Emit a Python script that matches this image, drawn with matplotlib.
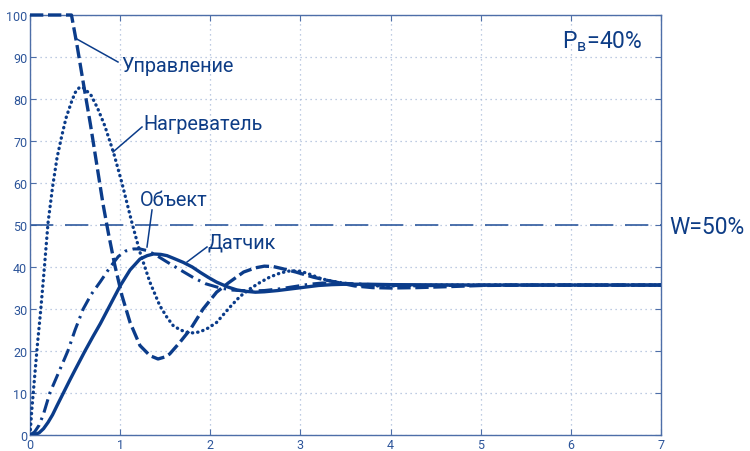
import matplotlib
matplotlib.use("Agg")
import matplotlib.pyplot as plt

# ---- data ----
upr_x = [0, 0.46, 0.52, 0.59, 0.67, 0.74, 0.81, 0.87, 0.94, 1.02, 1.11, 1.22, 1.33, 1.42, 1.50, 1.55, 1.66, 1.78, 1.92, 2.07, 2.20, 2.37, 2.50, 2.60, 2.70, 2.80, 2.95, 3.14, 3.30, 3.44, 3.60, 3.80, 4.00, 4.30, 4.60, 5.00, 5.50, 7.00]
upr_y = [100, 100, 93, 84, 74, 64.5, 55, 48, 40.5, 33.2, 26.8, 21.3, 18.9, 18.1, 18.6, 19.3, 22, 25.2, 30, 34, 36.2, 38.8, 39.8, 40.2, 40.1, 39.6, 38.8, 37.6, 36.8, 36.2, 35.5, 35.1, 35.0, 35.1, 35.3, 35.6, 35.7, 35.7]

nag_x = [0, 0.01, 0.02, 0.04, 0.08, 0.12, 0.16, 0.20, 0.25, 0.30, 0.35, 0.40, 0.46, 0.50, 0.55, 0.60, 0.68, 0.75, 0.83, 0.93, 1.02, 1.13, 1.22, 1.33, 1.44, 1.52, 1.59, 1.67, 1.75, 1.82, 1.89, 1.98, 2.07, 2.22, 2.33, 2.44, 2.55, 2.66, 2.78, 2.89, 3.00, 3.10, 3.22, 3.33, 3.44, 3.60, 3.80, 4.00, 4.50, 7.00]
nag_y = [0, 3, 6, 11, 21, 30, 40, 50.5, 59, 66, 71, 75.5, 79.3, 81.5, 82.8, 82.6, 80.8, 77.8, 73.6, 67, 60, 50.6, 43.5, 36.4, 30.8, 28, 26, 25, 24.4, 24.3, 24.6, 25.5, 26.8, 30.5, 33, 34.8, 36.3, 37.6, 38.6, 39.1, 39.0, 38.3, 37.3, 36.7, 36.3, 35.8, 35.5, 35.5, 35.7, 35.7]

obj_x = [0, 0.05, 0.10, 0.15, 0.22, 0.32, 0.42, 0.50, 0.59, 0.68, 0.78, 0.89, 0.98, 1.06, 1.15, 1.22, 1.30, 1.40, 1.52, 1.66, 1.81, 1.95, 2.11, 2.25, 2.44, 2.60, 2.77, 2.95, 3.10, 3.25, 3.40, 3.60, 3.80, 4.20, 5.00, 7.00]
obj_y = [0, 0.7, 2.3, 5, 10, 15, 20, 25, 30, 33.5, 36.5, 40, 42.5, 43.8, 44.3, 44.3, 43.9, 42.8, 41.2, 39.4, 37.5, 36.0, 35.0, 34.5, 34.3, 34.4, 34.8, 35.4, 35.9, 36.2, 36.2, 36.0, 35.8, 35.5, 35.7, 35.7]

dat_x = [0, 0.05, 0.10, 0.15, 0.20, 0.25, 0.30, 0.37, 0.44, 0.50, 0.61, 0.70, 0.78, 0.89, 1.00, 1.11, 1.22, 1.30, 1.37, 1.45, 1.52, 1.60, 1.70, 1.80, 1.89, 1.98, 2.07, 2.20, 2.30, 2.40, 2.50, 2.60, 2.75, 2.90, 3.05, 3.20, 3.35, 3.50, 3.75, 4.00, 5.00, 7.00]
dat_y = [0, 0.1, 0.5, 1.5, 3, 4.8, 7, 10, 13, 15.5, 20, 23.5, 26.5, 31, 35.5, 39.3, 41.9, 42.7, 43.1, 43.0, 42.7, 42.0, 41.1, 40.0, 38.7, 37.5, 36.4, 35.2, 34.5, 34.2, 34.0, 34.1, 34.4, 34.8, 35.2, 35.6, 35.8, 35.9, 35.9, 35.8, 35.7, 35.7]

w_level = 50
x_ticks = [0, 1, 2, 3, 4, 5, 6, 7]
y_ticks = [0, 10, 20, 30, 40, 50, 60, 70, 80, 90, 100]

plt.rcParams['font.family'] = ['Roboto', 'DejaVu Sans']
plt.rcParams['mathtext.fontset'] = 'custom'
plt.rcParams['mathtext.rm'] = 'Roboto'

LINE = '#0b3c8a'
TEXT = '#0e3d86'
AX = '#4d6ea8'
GRID = '#a9bbd9'

fig = plt.figure(figsize=(7.5, 4.52), dpi=100)
ax = fig.add_axes([30/750, 16/452, 631/750, 420/452])

ax.set_xlim(0, 7)
ax.set_ylim(0, 100)
ax.set_xticks(x_ticks)
ax.set_yticks(y_ticks)
ax.grid(True, linestyle=(0, (1, 3)), color=GRID, linewidth=0.9)
for s in ax.spines.values():
    s.set_color(AX)
    s.set_linewidth(1.0)
ax.tick_params(direction='in', top=True, right=True, colors=AX, labelcolor='#2d559a',
               labelsize=9, length=4, pad=2)

ax.axhline(w_level, color='#2f5a9e', linewidth=1.2, linestyle=(0, (14, 7)), zorder=2)

ax.plot(dat_x, dat_y, color=LINE, linewidth=2.4, linestyle='-', zorder=3)
ax.plot(obj_x, obj_y, color=LINE, linewidth=2.2, linestyle=(0, (4.5, 1.8, 0.8, 1.8)), zorder=3)
ax.plot(nag_x, nag_y, color=LINE, linewidth=2.4, linestyle=(0, (0.1, 1.5)),
        dash_capstyle='round', zorder=3)
ax.plot(upr_x, upr_y, color=LINE, linewidth=2.4, linestyle=(0, (4, 1.4)), zorder=3, clip_on=False)

def px(xp, yp):
    return ((xp - 30) / 631 * 7, (436 - yp) / 420 * 100)

def label(text, tx, ty, lx0, ly0, lx1, ly1):
    ax.plot(*zip(px(lx0, ly0), px(lx1, ly1)), color=LINE, linewidth=1.1, zorder=4)
    x, y = px(tx, ty)
    ax.text(x, y, text, fontsize=14.3, color=TEXT, ha='left', va='center', zorder=5)

label('Управление', 121, 67, 75, 39, 118, 63)
label('Нагреватель', 143, 125, 113, 153, 142, 128)
label('Объект', 140, 201, 147, 248, 152, 211)
label('Датчик', 208, 243, 187, 263, 207, 248)

x, y = px(669, 228)
ax.text(x, y, 'W=50%', fontsize=16.5, color=TEXT, ha='left', va='center', clip_on=False)
x, y = px(562, 42)
ax.text(x, y, r'$\mathrm{P_{в}}$=40%', fontsize=16.5, color=TEXT, ha='left', va='center')

fig.savefig('out.png', dpi=100)
